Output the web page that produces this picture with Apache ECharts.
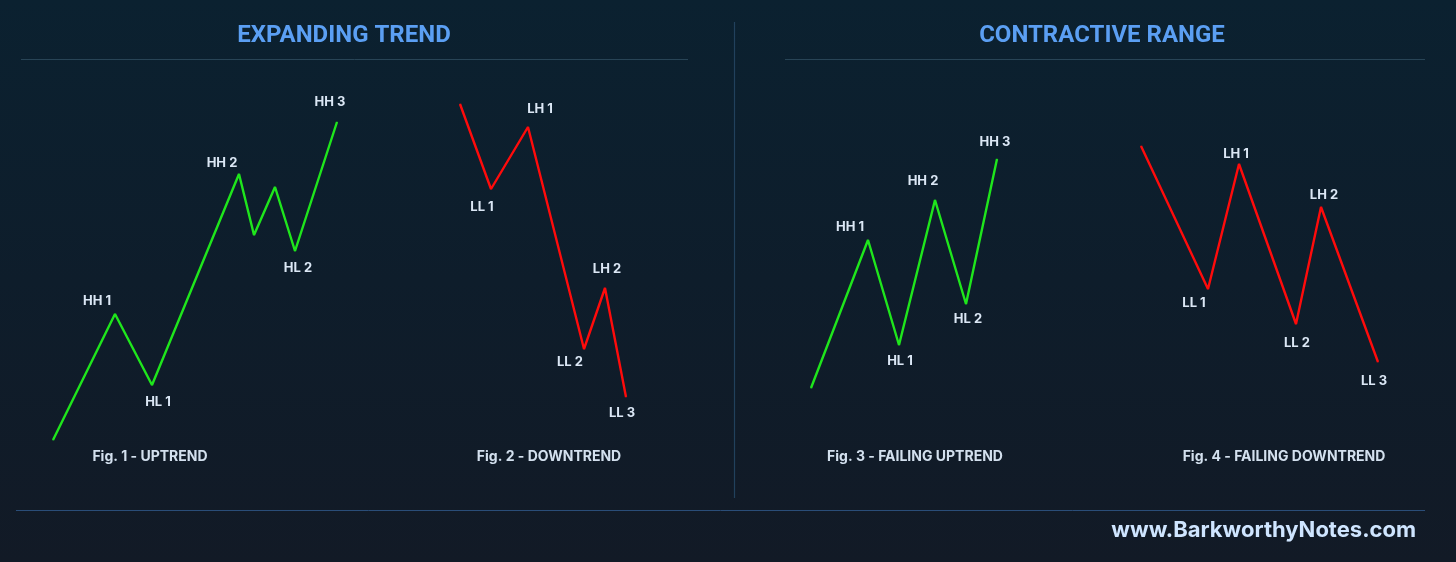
<!DOCTYPE html>
<html>
<head>
<meta charset="utf-8">
<script src="https://cdn.jsdelivr.net/npm/echarts@6/dist/echarts.min.js"></script>
<style>
  html, body { margin: 0; padding: 0; }
  body { background: linear-gradient(180deg, #0b2130 0%, #0e1d2b 50%, #121a26 100%); }
  #chart { width: 1456px; height: 562px; }
</style>
</head>
<body>
<div id="chart"></div>
<script>
// 四个走势图的数据 (x = 时间位置, y = 价格)
var fig1X = [13, 75, 112, 199, 214, 235, 255, 297];
var fig1Y = [10, 136, 65, 276, 215, 263, 199, 328];
var fig1Labels = ['', 'HH 1', 'HL 1', 'HH 2', '', '', 'HL 2', 'HH 3'];

var fig2X = [20, 51, 88, 144, 165, 186];
var fig2Y = [346, 261, 323, 101, 162, 53];
var fig2Labels = ['', 'LL 1', 'LH 1', 'LL 2', 'LH 2', 'LL 3'];

var fig3X = [11, 68, 99, 135, 166, 197];
var fig3Y = [62, 210, 105, 250, 146, 291];
var fig3Labels = ['', 'HH 1', 'HL 1', 'HH 2', 'HL 2', 'HH 3'];

var fig4X = [11, 78, 109, 166, 191, 248];
var fig4Y = [304, 161, 286, 126, 243, 88];
var fig4Labels = ['', 'LL 1', 'LH 1', 'LL 2', 'LH 2', 'LL 3'];

var captions = ['Fig. 1 - UPTREND', 'Fig. 2 - DOWNTREND', 'Fig. 3 - FAILING UPTREND', 'Fig. 4 - FAILING DOWNTREND'];
var sectionTitles = ['EXPANDING TREND', 'CONTRACTIVE RANGE'];
var footer = 'www.BarkworthyNotes.com';

// 布局 (不是数据)
var grids = [
  { left: 40, width: 320 },
  { left: 440, width: 200 },
  { left: 800, width: 210 },
  { left: 1130, width: 260 }
];
var labelOffsets = [
  [null, [-18, -1], [6, 5], [-17, 1], null, null, [3, 5], [-7, -8]],
  [null, [-9, 6], [12, -6], [-14, 1], [2, -7], [-4, 4]],
  [null, [-18, -1], [1, 4], [-12, -7], [2, 3], [-2, -5]],
  [null, [-14, 2], [-3, 2], [1, 7], [3, 0], [-4, 7]]
];
var titleX = [344, 1102];
var captionX = [150, 549, 915, 1284];
var lineColors = ['#1fe61c', '#ff0b0b', '#1fe61c', '#ff0b0b'];

var figs = [
  { x: fig1X, y: fig1Y, labels: fig1Labels },
  { x: fig2X, y: fig2Y, labels: fig2Labels },
  { x: fig3X, y: fig3Y, labels: fig3Labels },
  { x: fig4X, y: fig4Y, labels: fig4Labels }
];

var labelFont = 'Inter, "Noto Sans", sans-serif';

var chart = echarts.init(document.getElementById('chart'));

var option = {
  backgroundColor: 'transparent',
  animation: false,
  grid: grids.map(function (g) {
    return { left: g.left, width: g.width, top: 90, height: 360 };
  }),
  xAxis: grids.map(function (g, i) {
    return { type: 'value', gridIndex: i, min: 0, max: g.width, show: false };
  }),
  yAxis: grids.map(function (g, i) {
    return { type: 'value', gridIndex: i, min: 0, max: 360, show: false };
  }),
  series: figs.map(function (f, i) {
    return {
      type: 'line',
      xAxisIndex: i,
      yAxisIndex: i,
      symbol: 'circle',
      symbolSize: 1,
      lineStyle: { color: lineColors[i], width: 2.4 },
      itemStyle: { color: lineColors[i] },
      data: f.x.map(function (xv, k) {
        var name = f.labels[k];
        var item = { value: [xv, f.y[k]] };
        if (name) {
          // HH / LH 在上方, HL / LL 在下方
          item.label = {
            show: true,
            formatter: name,
            position: name.charAt(1) === 'H' ? 'top' : 'bottom',
            offset: labelOffsets[i][k],
            color: '#dbe7f5',
            fontFamily: labelFont,
            fontWeight: 'bold',
            fontSize: 13
          };
        }
        return item;
      })
    };
  }),
  graphic: [
    // 分隔线
    { type: 'line', shape: { x1: 21, y1: 59.5, x2: 688, y2: 59.5 }, style: { stroke: '#284456', lineWidth: 1 } },
    { type: 'line', shape: { x1: 785, y1: 59.5, x2: 1425, y2: 59.5 }, style: { stroke: '#284456', lineWidth: 1 } },
    { type: 'line', shape: { x1: 734.5, y1: 22, x2: 734.5, y2: 498 }, style: { stroke: '#21415c', lineWidth: 1.2 } },
    { type: 'line', shape: { x1: 16, y1: 510.5, x2: 1425, y2: 510.5 }, style: { stroke: '#2a4d78', lineWidth: 1 } },
    // 页脚
    { type: 'text', x: 1416, y: 530, style: { text: footer, fill: '#cfe5ff', font: 'bold 22px Inter, "Noto Sans", sans-serif', align: 'right', verticalAlign: 'middle' } }
  ].concat(sectionTitles.map(function (t, i) {
    return {
      type: 'text', x: titleX[i], y: 36,
      style: { text: t, fill: '#5b9ff3', font: 'bold 24px Roboto, sans-serif', align: 'center', verticalAlign: 'middle' }
    };
  })).concat(captions.map(function (c, i) {
    return {
      type: 'text', x: captionX[i], y: 457,
      style: { text: c, fill: '#d3e0ee', font: 'bold 14px ' + labelFont, align: 'center', verticalAlign: 'middle' }
    };
  }))
};

chart.setOption(option);
</script>
</body>
</html>
